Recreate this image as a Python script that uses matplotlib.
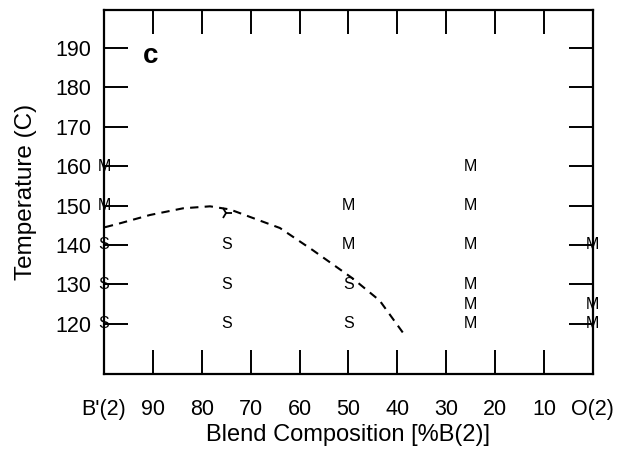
import matplotlib
matplotlib.use("Agg")
import matplotlib.pyplot as plt

plt.rcParams['font.family'] = ['Liberation Sans', 'DejaVu Sans']

# Phase observations: composition (%B(2)), temperature (C), label
obs_x = [100, 100, 100, 100, 100,
         75, 75, 75,
         50, 50, 50, 50,
         25, 25, 25, 25, 25, 25,
         0, 0, 0]
obs_y = [160, 150, 140, 130, 120,
         140, 130, 120,
         150, 140, 130, 120,
         160, 150, 140, 130, 125, 120,
         140, 125, 120]
obs_lbl = ['M', 'M', 'S', 'S', 'S',
           'S', 'S', 'S',
           'M', 'M', 'S', 'S',
           'M', 'M', 'M', 'M', 'M', 'M',
           'M', 'M', 'M']

# special marker point
tri_x = [75]
tri_y = [148]

# dashed boundary curve
curve_x = [99.8, 96.7, 90.6, 83.8, 78.3, 74.2, 70.1, 64.0, 57.3, 49.1, 43.6, 38.4]
curve_y = [144.5, 145.5, 147.6, 149.3, 149.8, 149.0, 147.1, 144.3, 138.7, 131.5, 125.9, 117.0]

xticks = [100, 90, 80, 70, 60, 50, 40, 30, 20, 10, 0]
xticklabels = ["B'(2)", '90', '80', '70', '60', '50', '40', '30', '20', '10', 'O(2)']
yticks = [120, 130, 140, 150, 160, 170, 180, 190]

fig = plt.figure(figsize=(6.3, 4.5), dpi=100)
ax = fig.add_axes([0.165, 0.169, 0.776, 0.809])

ax.plot(curve_x, curve_y, color='black', lw=1.5, linestyle=(0, (4, 3)))
ax.plot(tri_x, tri_y, linestyle='none', marker='4', color='black', ms=9, mew=1.3)

for x, y, s in zip(obs_x, obs_y, obs_lbl):
    ax.text(x, y, s, ha='center', va='center', fontsize=11.5, clip_on=False)

ax.set_xlim(100, 0)
ax.set_ylim(107.3, 199.6)
ax.set_xticks(xticks)
ax.set_xticklabels(xticklabels)
ax.set_yticks(yticks)

ax.tick_params(axis='both', direction='in', length=17, width=1.4, labelsize=15.5,
               top=True, right=True)
ax.tick_params(axis='x', pad=18)
ax.tick_params(axis='y', pad=9)
for sp in ax.spines.values():
    sp.set_linewidth(1.6)

ax.set_xlabel('Blend Composition [%B(2)]', fontsize=17, labelpad=3)
ax.set_ylabel('Temperature (C)', fontsize=17.5, labelpad=13)

ax.text(90.5, 187.8, 'c', fontsize=20, fontweight='bold', ha='center', va='center')

fig.savefig('out.png', dpi=100)
